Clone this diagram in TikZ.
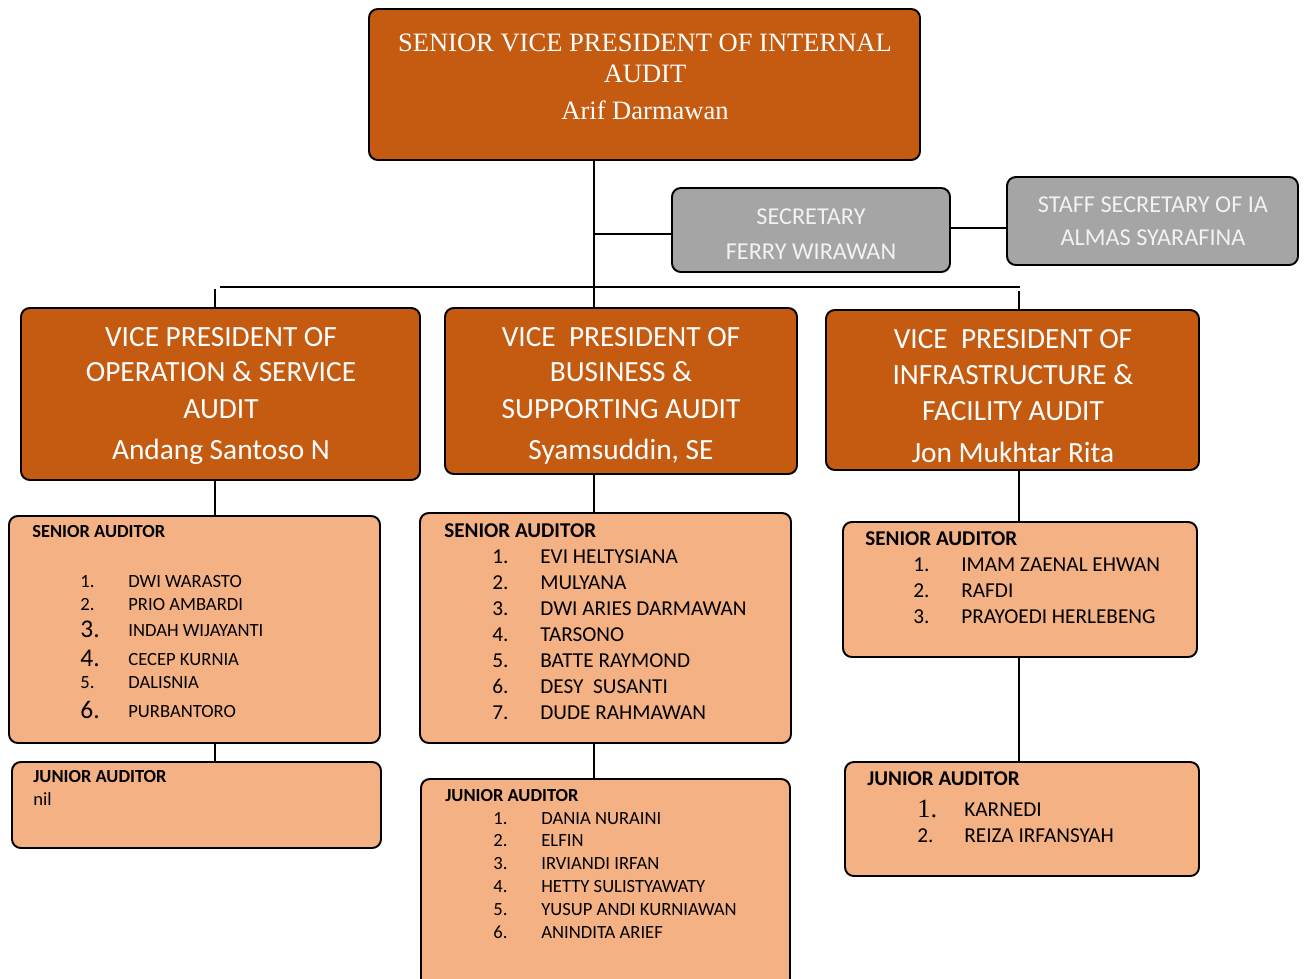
\documentclass[tikz,border=0pt]{standalone}
\usepackage{fontspec}
\setmainfont{Carlito}
\newfontfamily\timesf{Liberation Serif}
\usetikzlibrary{fit}
\definecolor{dorange}{HTML}{C55A11}
\definecolor{lorange}{HTML}{F4B183}
\definecolor{greybox}{HTML}{A5A5A5}
\definecolor{greytext}{HTML}{F2F2F2}
\newcommand{\fs}[1]{\fontsize{#1}{#1}\selectfont}
\tikzset{
  boxbase/.style={draw=black, line width=1.1pt, rounded corners=5pt, inner sep=0pt},
  darkbox/.style={boxbase, fill=dorange},
  lightbox/.style={boxbase, fill=lorange},
  greyb/.style={boxbase, fill=greybox},
  conn/.style={draw=black, line width=1.1pt},
  toptxt/.style={anchor=base, inner sep=0pt, text=white, font=\timesf\fs{15.1pt}},
  vptxt/.style={anchor=base, inner sep=0pt, text=white, font=\fs{16.7pt}},
  sectxt/.style={anchor=base, inner sep=0pt, text=greytext, font=\fs{13.8pt}},
  hdrA/.style={anchor=base west, inner sep=0pt, font=\bfseries\fs{10.5pt}},
  hdrB/.style={anchor=base west, inner sep=0pt, font=\bfseries\fs{12pt}},
  itA/.style={anchor=base west, inner sep=0pt, font=\fs{10.6pt}},
  itAbig/.style={anchor=base west, inner sep=0pt, font=\fs{14.5pt}},
  itB/.style={anchor=base west, inner sep=0pt, font=\fs{12.1pt}},
  itT/.style={anchor=base west, inner sep=0pt, font=\timesf\fs{15pt}},
}
\begin{document}
\begin{tikzpicture}[x=0.02cm, y=-0.02cm]
\clip (0,0) rectangle (1304,978);
\useasboundingbox (0,0) rectangle (1304,978);

% boxes
\node[darkbox, fit={(369,9) (920,160)}] (top) {};
\node[greyb, fit={(672,188) (950,272)}] (sec) {};
\node[greyb, fit={(1007,177) (1298,265)}] (staff) {};
\node[darkbox, fit={(21,308) (420,480)}] (vp1) {};
\node[darkbox, fit={(445,308) (797,474)}] (vp2) {};
\node[darkbox, fit={(826,310) (1199,470)}] (vp3) {};
\node[lightbox, fit={(9,516) (380,743)}] (sa1) {};
\node[lightbox, fit={(12,762) (381,848)}] (ja1) {};
\node[lightbox, fit={(420,513) (791,743)}] (sa2) {};
\node[lightbox, fit={(421,779) (790,1000)}] (ja2) {};
\node[lightbox, fit={(843,522) (1197,657)}] (sa3) {};
\node[lightbox, fit={(845,762) (1199,876)}] (ja3) {};

% connectors
\coordinate (cx) at (594,287);
\coordinate (busL) at (220,287);
\coordinate (busR) at (1020,287);
\coordinate (dropL) at (215,289);
\coordinate (dropR) at (1019,291);
\draw[conn] (top.south -| cx) -- (vp2.north -| cx);
\draw[conn] (sec.west |- 0,234) -- (cx |- 0,234);
\draw[conn] (sec.east |- 0,228) -- (staff.west |- 0,228);
\draw[conn] (busL) -- (busR);
\draw[conn] (dropL) -- (vp1.north -| dropL);
\draw[conn] (dropR) -- (vp3.north -| dropR);
\draw[conn] (vp1.south -| dropL) -- (sa1.north -| dropL);
\draw[conn] (sa1.south -| dropL) -- (ja1.north -| dropL);
\draw[conn] (vp2.south -| cx) -- (sa2.north -| cx);
\draw[conn] (sa2.south -| cx) -- (ja2.north -| cx);
\draw[conn] (vp3.south -| dropR) -- (sa3.north -| dropR);
\draw[conn] (sa3.south -| dropR) -- (ja3.north -| dropR);

% top text
\node[toptxt] (t1) at (645,51) {SENIOR VICE PRESIDENT OF INTERNAL};
\node[toptxt] (t2) at (645,82) {AUDIT};
\node[toptxt] (t3) at (645,119) {Arif Darmawan};

% secretary
\node[sectxt] (s1) at (811,224) {SECRETARY};
\node[sectxt] (s2) at (811,259) {FERRY WIRAWAN};
\node[sectxt] (st1) at (1153,212) {STAFF SECRETARY OF IA};
\node[sectxt] (st2) at (1153,245) {ALMAS SYARAFINA};

% VP texts
\node[vptxt] (v11) at (221,346) {VICE PRESIDENT OF};
\node[vptxt] (v12) at (221,381) {OPERATION \& SERVICE};
\node[vptxt] (v13) at (221,418) {AUDIT};
\node[vptxt] (v14) at (221,459) {Andang Santoso N};
\node[vptxt] (v21) at (621,346) {VICE\ \ PRESIDENT OF};
\node[vptxt] (v22) at (621,381) {BUSINESS \&};
\node[vptxt] (v23) at (621,418) {SUPPORTING AUDIT};
\node[vptxt] (v24) at (621,459) {Syamsuddin, SE};
\node[vptxt] (v31) at (1013,348) {VICE\ \ PRESIDENT OF};
\node[vptxt] (v32) at (1013,384) {INFRASTRUCTURE \&};
\node[vptxt] (v33) at (1013,420) {FACILITY AUDIT};
\node[vptxt] (v34) at (1013,462) {Jon Mukhtar Rita};

% senior auditor 1
\node[hdrA] (h1) at (32,537) {SENIOR AUDITOR};
\node[itA] (n11) at (80,587) {1.};   \node[itA] (m11) at (128,587) {DWI WARASTO};
\node[itA] (n12) at (80,610) {2.};   \node[itA] (m12) at (128,610) {PRIO AMBARDI};
\node[itAbig] (n13) at (80,637) {3.}; \node[itA] (m13) at (128,636) {INDAH WIJAYANTI};
\node[itAbig] (n14) at (80,666) {4.}; \node[itA] (m14) at (128,665) {CECEP KURNIA};
\node[itA] (n15) at (80,688) {5.};   \node[itA] (m15) at (128,688) {DALISNIA};
\node[itAbig] (n16) at (80,718) {6.}; \node[itA] (m16) at (128,717) {PURBANTORO};

% junior auditor 1
\node[hdrA] (h2) at (33,782) {JUNIOR AUDITOR};
\node[itA] (nil) at (33,805) {nil};

% senior auditor 2
\node[hdrB] (h3) at (444,537) {SENIOR AUDITOR};
\foreach \i/\nm [count=\k] in {563/EVI HELTYSIANA, 589/MULYANA, 615/DWI ARIES DARMAWAN, 641/TARSONO, 667/BATTE RAYMOND, 693/DESY\ \ SUSANTI, 719/DUDE RAHMAWAN}{
  \node[itB] (n2\k) at (492,\i) {\k.};
  \node[itB] (m2\k) at (540,\i) {\nm};
}

% junior auditor 2
\node[hdrA] (h4) at (445,801) {JUNIOR AUDITOR};
\foreach \i/\nm [count=\k] in {824/DANIA NURAINI, 846/ELFIN, 869/IRVIANDI IRFAN, 892/HETTY SULISTYAWATY, 915/YUSUP ANDI KURNIAWAN, 938/ANINDITA ARIEF}{
  \node[itA] (n3\k) at (493,\i) {\k.};
  \node[itA] (m3\k) at (541,\i) {\nm};
}

% senior auditor 3
\node[hdrB] (h5) at (865,545) {SENIOR AUDITOR};
\foreach \i/\nm [count=\k] in {571/IMAM ZAENAL EHWAN, 597/RAFDI, 623/PRAYOEDI HERLEBENG}{
  \node[itB] (n4\k) at (913,\i) {\k.};
  \node[itB] (m4\k) at (961,\i) {\nm};
}

% junior auditor 3
\node[hdrB] (h6) at (867,785) {JUNIOR AUDITOR};
\node[itT] (n51) at (917,817) {1.}; \node[itB] (m51) at (964,816) {KARNEDI};
\node[itB] (n52) at (917,842) {2.}; \node[itB] (m52) at (964,842) {REIZA IRFANSYAH};
\end{tikzpicture}
\end{document}
